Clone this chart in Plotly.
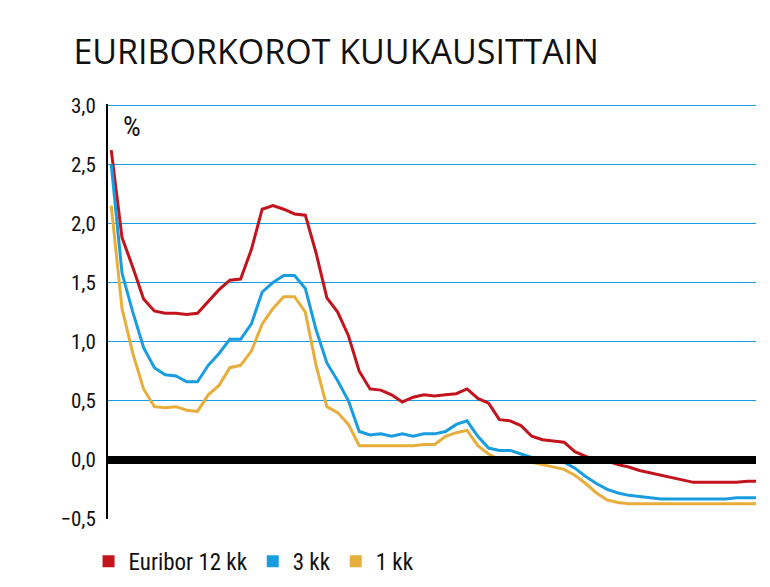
import plotly.graph_objects as go

euribor12 = [2.62,1.88,1.63,1.36,1.26,1.24,1.24,1.23,1.24,1.34,1.44,1.52,1.53,1.78,2.12,2.15,2.12,2.08,2.07,1.75,
             1.37,1.25,1.05,0.75,0.6,0.59,0.55,0.49,0.53,0.55,0.54,0.55,0.56,0.6,0.52,0.48,0.34,0.33,0.29,0.2,
             0.17,0.16,0.15,0.07,0.03,0.0,-0.01,-0.04,-0.06,-0.09,-0.11,-0.13,-0.15,-0.17,-0.19,-0.19,-0.19,-0.19,-0.19,-0.18,-0.18]
euribor3 = [2.5,1.58,1.25,0.95,0.78,0.72,0.71,0.66,0.66,0.8,0.9,1.02,1.02,1.15,1.42,1.5,1.56,1.56,1.45,1.1,
            0.82,0.67,0.5,0.24,0.21,0.22,0.2,0.22,0.2,0.22,0.22,0.24,0.3,0.33,0.2,0.1,0.08,0.08,0.05,0.02,
            0.0,-0.01,-0.02,-0.07,-0.14,-0.2,-0.25,-0.28,-0.3,-0.31,-0.32,-0.33,-0.33,-0.33,-0.33,-0.33,-0.33,-0.33,-0.32,-0.32,-0.32]
euribor1 = [2.15,1.28,0.9,0.6,0.45,0.44,0.45,0.42,0.41,0.55,0.63,0.78,0.8,0.92,1.15,1.28,1.38,1.38,1.25,0.8,
            0.45,0.4,0.3,0.12,0.12,0.12,0.12,0.12,0.12,0.13,0.13,0.2,0.23,0.25,0.12,0.05,0.0,0.0,-0.01,-0.02,
            -0.04,-0.06,-0.08,-0.13,-0.2,-0.28,-0.34,-0.36,-0.37,-0.37,-0.37,-0.37,-0.37,-0.37,-0.37,-0.37,-0.37,-0.37,-0.37,-0.37,-0.37]
names = ["Euribor 12 kk", "3 kk", "1 kk"]
colors = ["#c3141d", "#1a9de0", "#e8ae3c"]
series = [euribor12, euribor3, euribor1]

fig = go.Figure()
for n, c, s in zip(names, colors, series):
    fig.add_trace(go.Scatter(x=list(range(len(s))), y=s, mode="lines", line=dict(color=c, width=3),
                             showlegend=False, hoverinfo="skip"))
for n, c in zip(names, colors):
    fig.add_trace(go.Scatter(x=[None], y=[None], mode="markers", name=n,
                             marker=dict(symbol="square", size=16, color=c)))

fig.add_hline(y=0, line=dict(color="black", width=8), layer="above")

fig.update_layout(
    width=770, height=587, plot_bgcolor="white", paper_bgcolor="white",
    margin=dict(l=100, r=22, t=96, b=70),
    separators=",.",
    font=dict(family="Roboto Condensed, Roboto, sans-serif", size=21, color="#111"),
    title=dict(text="EURIBORKOROT KUUKAUSITTAIN", x=0.085, xanchor="left", y=0.925, yanchor="middle",
               font=dict(family="Open Sans, sans-serif", size=34, color="#111")),
    xaxis=dict(range=[-0.3, 59.8], showgrid=False, showticklabels=False, zeroline=False, ticks=""),
    yaxis=dict(range=[-0.5, 3.01], tickvals=[-0.5,0,0.5,1,1.5,2,2.5,3], tickformat=".1f", showgrid=True,
               gridcolor="#1a9de0", gridwidth=1, zeroline=False, showline=True, linecolor="black", linewidth=2,
               ticks="", ticklabelstandoff=6, tickfont=dict(size=21)),
    legend=dict(orientation="h", x=-0.03, y=-0.05, xanchor="left", yanchor="top",
                font=dict(size=23), itemsizing="constant"),
    annotations=[dict(text="%", xref="paper", yref="paper", x=0.02, y=0.99, xanchor="left", yanchor="top",
                      showarrow=False, font=dict(size=28, color="#111"))],
)
fig.write_html("out.html")
